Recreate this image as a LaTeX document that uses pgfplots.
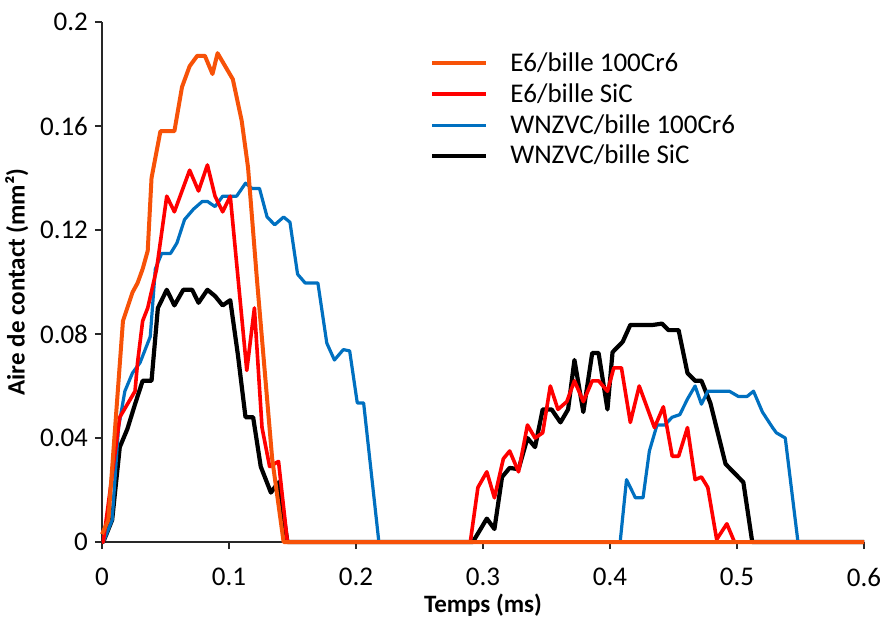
\documentclass[border=0pt]{standalone}
\usepackage{pgfplots}
\pgfplotsset{compat=1.18}
\usepackage{fontspec}
\setmainfont{Carlito}
\definecolor{corange}{RGB}{247,82,8}
\definecolor{cred}{RGB}{255,0,0}
\definecolor{cblue}{RGB}{0,112,192}
\definecolor{caxis}{RGB}{40,40,40}
\begin{document}
\begin{tikzpicture}
\path[use as bounding box] (-51pt,-39.5pt) rectangle (389.5pt,271pt);
\begin{axis}[
  at={(0,0)}, anchor=south west,
  scale only axis, width=381pt, height=260pt,
  xmin=0, xmax=0.6, ymin=0, ymax=0.2,
  axis x line*=bottom, axis y line*=left,
  axis line style={caxis, line width=0.8pt},
  tick align=outside, major tick length=3.5pt,
  tick style={caxis, line width=0.8pt},
  xtick={0,0.1,0.2,0.3,0.4,0.5,0.6},
  xticklabels={0,0.1,0.2,0.3,0.4,0.5,0.6},
  ytick={0,0.04,0.08,0.12,0.16,0.2},
  yticklabels={0,0.04,0.08,0.12,0.16,0.2},
  ticklabel style={font=\fontsize{13.5}{15}\selectfont},
  xticklabel style={yshift=-6pt},
  /pgf/number format/assume math mode=true,
  xlabel={\textbf{Temps (ms)}},
  ylabel={\textbf{Aire de contact (mm²)}},
  label style={font=\fontsize{12.5}{14}\selectfont},
  xlabel style={yshift=3pt},
  ylabel style={yshift=-1pt},
  legend style={at={(0.43,0.95)}, anchor=north west, draw=none, fill=none,
    font=\fontsize{13.5}{16}\selectfont, row sep=0.6pt, inner sep=0pt},
  legend cell align=left,
  legend image code/.code={\draw[#1] (0pt,0pt) -- (27pt,0pt); \path (36pt,0pt);},
  clip=false,
]
\addlegendimage{corange, line width=2pt}
\addlegendentry{E6/bille 100Cr6}
\addlegendimage{cred, line width=1.8pt}
\addlegendentry{E6/bille SiC}
\addlegendimage{cblue, line width=1.6pt}
\addlegendentry{WNZVC/bille 100Cr6}
\addlegendimage{black, line width=2.1pt}
\addlegendentry{WNZVC/bille SiC}

% WNZVC / bille SiC
\addplot[black, line width=2.1pt, line join=round, forget plot] coordinates {
(0.0,0) (0.001,0) (0.008,0.0085) (0.014,0.0365) (0.020,0.0435) (0.026,0.053)
(0.032,0.062) (0.039,0.062) (0.044,0.090) (0.051,0.097) (0.057,0.091)
(0.064,0.097) (0.071,0.097) (0.076,0.092) (0.083,0.097) (0.089,0.0946)
(0.095,0.091) (0.101,0.093) (0.107,0.072) (0.113,0.048) (0.119,0.048)
(0.125,0.029) (0.133,0.019) (0.139,0.023) (0.146,0)
(0.292,0) (0.303,0.009) (0.309,0.005) (0.315,0.025) (0.321,0.0285)
(0.328,0.028) (0.335,0.040) (0.341,0.0365) (0.347,0.051) (0.354,0.051)
(0.361,0.046) (0.367,0.051) (0.372,0.070) (0.379,0.050) (0.386,0.0727)
(0.391,0.0727) (0.398,0.051) (0.402,0.073) (0.410,0.077) (0.416,0.0835)
(0.434,0.0835) (0.441,0.084) (0.446,0.0815) (0.454,0.0815) (0.461,0.065)
(0.467,0.062) (0.472,0.062) (0.479,0.0535) (0.491,0.030) (0.498,0.0265)
(0.505,0.023) (0.512,0) (0.6,0)
};

% WNZVC / bille 100Cr6
\addplot[cblue, line width=1.6pt, line join=round, forget plot] coordinates {
(0.0,0) (0.001,0) (0.008,0.0085) (0.013,0.044) (0.018,0.058) (0.024,0.065)
(0.030,0.069) (0.034,0.074) (0.038,0.079) (0.042,0.105) (0.047,0.111)
(0.054,0.111) (0.059,0.115) (0.065,0.124) (0.072,0.128) (0.079,0.131)
(0.083,0.131) (0.089,0.129) (0.095,0.133) (0.106,0.133) (0.113,0.138)
(0.118,0.136) (0.124,0.136) (0.130,0.125) (0.136,0.122) (0.143,0.125)
(0.148,0.123) (0.154,0.103) (0.160,0.0996) (0.170,0.0996) (0.177,0.0765)
(0.183,0.070) (0.190,0.074) (0.195,0.0735) (0.201,0.0535) (0.206,0.0535)
(0.218,0)
(0.408,0) (0.413,0.024) (0.420,0.017) (0.426,0.017) (0.431,0.035)
(0.437,0.045) (0.443,0.045) (0.449,0.048) (0.455,0.049) (0.461,0.055)
(0.467,0.060) (0.472,0.053) (0.477,0.058) (0.494,0.058) (0.501,0.056)
(0.508,0.056) (0.513,0.058) (0.520,0.050) (0.528,0.044) (0.531,0.042)
(0.538,0.040) (0.548,0) (0.6,0)
};

% E6 / bille SiC
\addplot[cred, line width=1.8pt, line join=round, forget plot] coordinates {
(0.0,0) (0.001,0) (0.014,0.048) (0.026,0.058) (0.028,0.069) (0.032,0.085)
(0.036,0.090) (0.043,0.105) (0.051,0.133) (0.057,0.127) (0.069,0.143)
(0.076,0.135) (0.083,0.145) (0.089,0.133) (0.095,0.127) (0.101,0.133)
(0.114,0.066) (0.120,0.090) (0.126,0.044) (0.132,0.029) (0.139,0.031)
(0.146,0)
(0.290,0) (0.296,0.021) (0.303,0.027) (0.309,0.017) (0.316,0.032)
(0.321,0.035) (0.328,0.027) (0.335,0.045) (0.341,0.040) (0.347,0.042)
(0.353,0.060) (0.359,0.051) (0.366,0.054) (0.372,0.062) (0.379,0.054)
(0.386,0.062) (0.391,0.062) (0.398,0.058) (0.403,0.067) (0.409,0.067)
(0.416,0.046) (0.423,0.060) (0.435,0.044) (0.442,0.052) (0.449,0.033)
(0.454,0.033) (0.461,0.044) (0.467,0.024) (0.472,0.025) (0.477,0.021)
(0.484,0.001) (0.492,0.007) (0.498,0) (0.6,0)
};

% E6 / bille 100Cr6
\addplot[corange, line width=2pt, line join=round, forget plot] coordinates {
(0.0,0.003) (0.005,0.0085) (0.0165,0.085) (0.024,0.096) (0.028,0.0996)
(0.032,0.105) (0.036,0.112) (0.039,0.140) (0.046,0.158) (0.057,0.158)
(0.063,0.175) (0.069,0.183) (0.075,0.187) (0.081,0.187) (0.087,0.180)
(0.091,0.188) (0.103,0.178) (0.110,0.162) (0.115,0.144) (0.122,0.101)
(0.134,0.032) (0.143,0) (0.6,0)
};
\end{axis}
\end{tikzpicture}
\end{document}
